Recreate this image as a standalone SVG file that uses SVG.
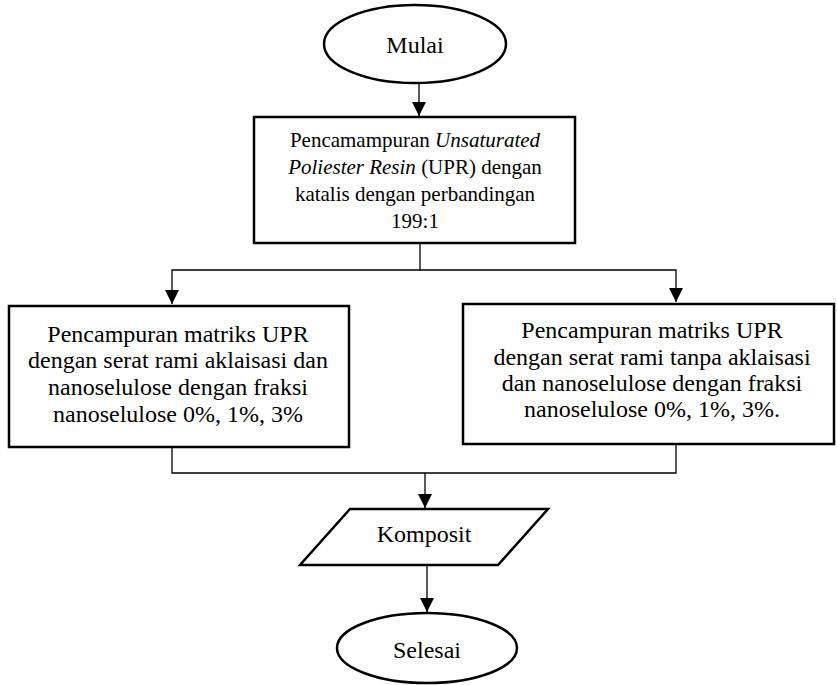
<svg xmlns="http://www.w3.org/2000/svg" width="837" height="685" viewBox="0 0 837 685">
<style>
.shape{fill:#fff;stroke:#000;stroke-width:2.5}
.conn{fill:none;stroke:#000;stroke-width:1.3}
text{font-family:'Liberation Serif','Times New Roman',serif;fill:#000;text-anchor:middle}
.t1{font-size:21px}
.t2{font-size:24px}
</style>
<defs>
<marker id="arr" viewBox="0 0 14 14" refX="14" refY="7" markerWidth="14" markerHeight="14" markerUnits="userSpaceOnUse" orient="auto">
<path d="M0,0 L14,7 L0,14 z" fill="#000"/>
</marker>
</defs>
<g id="connectors">
<path class="conn" d="M419,83 V116" marker-end="url(#arr)"/>
<path class="conn" d="M420,243 V270 H172 V304" marker-end="url(#arr)"/>
<path class="conn" d="M420,270 H676 V302" marker-end="url(#arr)"/>
<path class="conn" d="M172,447 V473 H676 V444"/>
<path class="conn" d="M425,473 V508" marker-end="url(#arr)"/>
<path class="conn" d="M427,565 V612" marker-end="url(#arr)"/>
</g>
<g id="mulai">
<ellipse class="shape" cx="415" cy="44" rx="91" ry="39"/>
<text class="t2" x="415" y="53">Mulai</text>
</g>
<g id="pencamampuran">
<rect class="shape" x="254" y="117" width="321" height="126"/>
<text class="t1" x="415" y="147">Pencamampuran <tspan font-style="italic">Unsaturated</tspan></text>
<text class="t1" x="415" y="174"><tspan font-style="italic">Poliester Resin</tspan> (UPR) dengan</text>
<text class="t1" x="415" y="201">katalis dengan perbandingan</text>
<text class="t1" x="415" y="228">199:1</text>
</g>
<g id="kiri">
<rect class="shape" x="9" y="306" width="340" height="141"/>
<text class="t2" x="178" y="342">Pencampuran matriks UPR</text>
<text class="t2" x="178" y="368">dengan serat rami aklaisasi dan</text>
<text class="t2" x="178" y="395">nanoselulose dengan fraksi</text>
<text class="t2" x="178" y="422">nanoselulose 0%, 1%, 3%</text>
</g>
<g id="kanan">
<rect class="shape" x="463" y="304" width="371" height="140"/>
<text class="t2" x="652" y="338">Pencampuran matriks UPR</text>
<text class="t2" x="652" y="365">dengan serat rami tanpa aklaisasi</text>
<text class="t2" x="652" y="391">dan nanoselulose dengan fraksi</text>
<text class="t2" x="652" y="417">nanoselulose 0%, 1%, 3%.</text>
</g>
<g id="komposit">
<polygon class="shape" points="350,509 548,509 498,565 300,565"/>
<text class="t2" x="424" y="542">Komposit</text>
</g>
<g id="selesai">
<ellipse class="shape" cx="427" cy="648" rx="90" ry="35"/>
<text class="t2" x="427" y="658">Selesai</text>
</g>
</svg>
